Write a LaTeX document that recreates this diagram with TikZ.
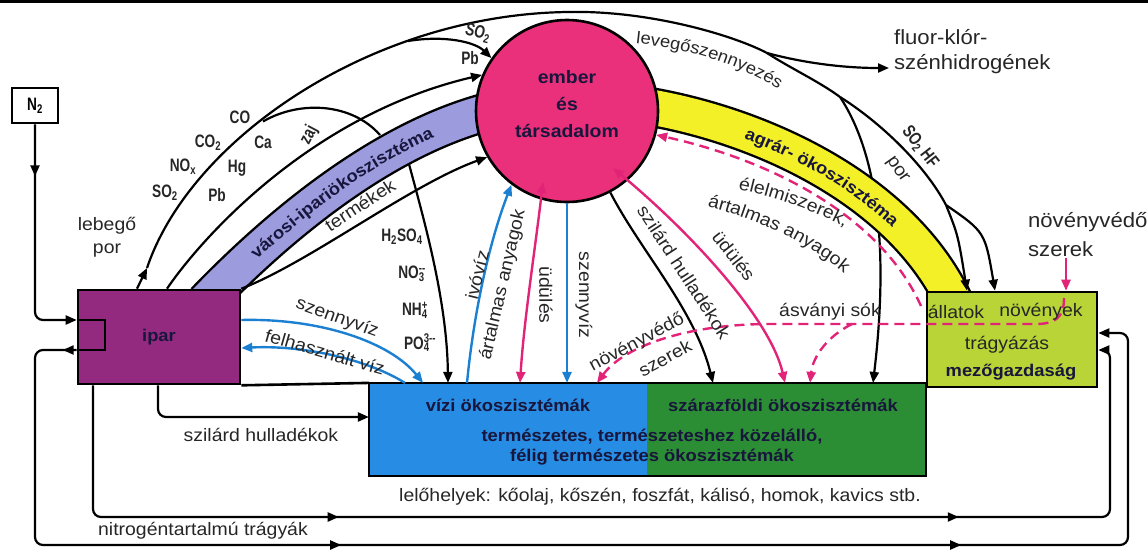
\documentclass[tikz,border=0pt]{standalone}
\usepackage{fontspec}
\setmainfont{Liberation Sans}[FakeStretch=1.08]
\newfontfamily\narrowfont{Liberation Sans}[FakeStretch=0.76]
\usetikzlibrary{arrows.meta,decorations.markings,decorations.text,positioning}

\definecolor{iparcol}{RGB}{148,42,128}
\definecolor{embercol}{RGB}{234,48,122}
\definecolor{varoscol}{RGB}{155,155,222}
\definecolor{agrarcol}{RGB}{244,240,40}
\definecolor{vizcol}{RGB}{38,140,228}
\definecolor{szarazcol}{RGB}{44,142,52}
\definecolor{mezocol}{RGB}{184,212,54}
\definecolor{bluecol}{RGB}{28,128,210}
\definecolor{pinkcol}{RGB}{226,36,120}
\definecolor{inkcol}{RGB}{24,22,60}

\newcommand{\chemss}[2]{\rlap{\textsubscript{#1}}\textsuperscript{#2}}

\pgfdeclarelayer{back}
\pgfdeclarelayer{bands}
\pgfsetlayers{back,bands,main}

\begin{document}
\begin{tikzpicture}[x=1pt,y=-1pt,
    every path/.append style={line width=2.2pt},
    >={Triangle[length=11pt,width=9pt]},
    box/.style={draw,line width=2.6pt,inner sep=0pt},
    lab/.style={inner sep=0pt,text=black!85,font=\fontsize{18}{22}\selectfont},
    chem/.style={inner sep=0pt,text=black!85,font=\narrowfont\bfseries\fontsize{18}{20}\selectfont},
    boxlab/.style={inner sep=0pt,text=inkcol,font=\bfseries\fontsize{17}{20}\selectfont},
    blueflow/.style={draw=bluecol,line width=2.4pt},
    pinkflow/.style={draw=pinkcol,line width=2.4pt},
    pinkdash/.style={pinkflow,dash pattern=on 10pt off 6pt},
    band/.style={draw=black,line width=2.4pt,double distance=35pt},
    midtip/.style={postaction={decorate,decoration={markings,mark=at position #1 with {\arrow{>}}}}}
  ]
  \useasboundingbox (0,0) rectangle (1148,550);
  \fill[black] (0,0) rectangle (1148,3);

  % blocks
  \node[box,fill=iparcol,minimum width=162pt,minimum height=94pt] (ipar) at (159,337) {};
  \node[box,fill=white,minimum width=46pt,minimum height=35pt,font=\narrowfont\bfseries\fontsize{18}{18}\selectfont] (N2) at (35,105.5) {N\textsubscript{2}};
  \node[circle,draw,line width=2.6pt,fill=embercol,minimum size=182pt,inner sep=0pt] (ember) at (567,111) {};
  \node[fill=vizcol,minimum width=277pt,minimum height=91pt,inner sep=0pt] (vizi) at (508.5,429.5) {};
  \node[fill=szarazcol,minimum width=278pt,minimum height=91pt,inner sep=0pt] (szaraz) at (786,429.5) {};
  \draw[line width=2.6pt] (vizi.north west) rectangle (szaraz.south east);
  \node[box,fill=mezocol,minimum width=170pt,minimum height=95pt] (mezo) at (1012,339.5) {};
  \node[lab,anchor=west,align=left,font=\fontsize{20.5}{25}\selectfont] (fluor) at (893,52) {fluor-klór-\\szénhidrogének};
  \node[lab,anchor=north west,align=left,font=\fontsize{20.5}{29}\selectfont] (novtop) at (1027,211) {növényvédő\\szerek};

  \coordinate (aSp) at (840,97);
  \coordinate (bandL0) at (205,302);
  \coordinate (bandL1) at (495,110);
  \coordinate (bandR0) at (645,106);
  \coordinate (bandR1) at (957,308);

  \begin{pgfonlayer}{back}
    \draw (263,121.5) .. controls (300,100) and (352,103) .. (380,135);
    \draw[->] (aSp) .. controls (875,150) and (890,240) .. (szaraz.north -| 873,0);
  \end{pgfonlayer}
  \begin{pgfonlayer}{bands}
    \draw[band,double=varoscol] (bandL0) .. controls (255,250) and (370,140) .. (bandL1);
    \draw[band,double=agrarcol] (bandR0) .. controls (760,125) and (905,190) .. (bandR1);
  \end{pgfonlayer}

  % nitrogen and deposits
  \draw[->,rounded corners=8pt,midtip=52pt] (N2.south) -- (N2.south |- 0,320) -- (ipar.west |- 0,320);
  \draw (ipar.west |- 0,320) -- (105,320) -- (105,350) -- (ipar.west |- 0,350);
  \draw[->,rounded corners=8pt,midtip=14pt,midtip=536pt,midtip=1156pt] (ipar.west |- 0,350) -- (35,350) -- (35,545) -- (1128,545) -- (1128,333) -- (mezo.east |- 0,333);
  \draw[->,rounded corners=8pt,midtip=374pt,midtip=994pt] (ipar.south -| 93,0) -- (93,517) -- (1110,517) -- (1110,350) -- (mezo.east |- 0,350);
  \draw[->,rounded corners=8pt] (ipar.south -| 158,0) -- (158,417) -- (vizi.west |- 0,417);
  \draw[line width=2.6pt] (ipar.south east) -- (vizi.north west);

  % air
  \coordinate (a0) at (147,268);
  \coordinate (aTop) at (567,12);
  \coordinate (aFl) at (767,53);
  \coordinate (aSO) at (408,41);
  \coordinate (aHF) at (946,205);
  \draw[->] (ipar.north -| 137,0) -- (a0);
  \draw (a0) .. controls (190,140) and (370,15) .. (aTop) .. controls (650,10) and (735,36) .. (aFl) .. controls (790,68) and (820,82) .. (aSp);
  \draw[->,shorten >=4pt] (aFl) .. controls (800,62) and (840,68) .. (fluor.west |- 0,68);
  \draw (aSp) .. controls (880,122) and (925,165) .. (aHF);
  \draw[->] (aHF) .. controls (958,235) .. (mezo.north -| 967,0);
  \draw[->] (aHF) .. controls (985,232) .. (mezo.north -| 995,0);
  \draw[->] (aSO) .. controls (445,35) and (475,42) .. (ember.145);
  \draw[->] (ipar.north -| 167,0) .. controls (200,240) and (310,115) .. (ember.157);
  \draw[->] (ipar.north east) .. controls (310,262) and (410,185) .. (ember.210);
  \draw[->] (409,164) .. controls (424,220) and (447,300) .. (vizi.north -| 448,0);

  % water and people
  \coordinate (pU1) at (543,182);
  \coordinate (pU2) at (613,168);
  \draw[blueflow,->] (ipar.east |- 0,320) .. controls (320,318) and (390,342) .. (vizi.north -| 423,0);
  \draw[blueflow,->] (vizi.north -| 405,0) .. controls (365,358) and (300,345) .. (ipar.east |- 0,348);
  \draw[blueflow,->] (vizi.north -| 467,0) .. controls (474,310) and (490,240) .. (ember.-127);
  \draw[blueflow,->] (ember.south) -- (vizi.north -| 567,0);
  \draw[pinkflow,<->] (pU1) .. controls (535,250) and (524,320) .. (vizi.north -| 520,0);
  \draw[pinkflow,<->] (pU2) .. controls (690,232) and (770,318) .. (szaraz.north -| 785,0);
  \draw[->] (ember.-62) .. controls (640,250) and (695,310) .. (szaraz.north -| 713,0);

  % agriculture
  \coordinate (dE) at (921,306);
  \coordinate (dN) at (1064,298);
  \coordinate (dS) at (852,324);
  \draw[pinkdash,->] (dE) .. controls (880,215) and (770,160) .. (ember.-15);
  \draw[pinkflow,->] (novtop.south -| 1066,0) -- (mezo.north -| 1066,0);
  \draw[pinkdash,->] (dN) .. controls (1064,318) and (1055,324) .. (1035,324) -- (770,324) .. controls (690,324) and (625,345) .. (vizi.north -| 597,0);
  \draw[pinkdash,->] (dS) .. controls (828,336) and (813,356) .. (szaraz.north -| 810,0);

  % texts in blocks
  \node[boxlab] (iparlab) at (ipar.center) {ipar};
  \node[boxlab,align=center,font=\bfseries\fontsize{18}{27}\selectfont] (emberlab) at (567,104) {ember\\és\\társadalom};
  \node[boxlab] (vizilab) at (508,405) {vízi ökoszisztémák};
  \node[boxlab] (szarazlab) at (783,405) {szárazföldi ökoszisztémák};
  \node[boxlab,align=center] (ecolab) at (652,447) {természetes, természeteshez közelálló,\\félig természetes ökoszisztémák};
  \node[lab] (allatlab) at (956,312) {állatok};
  \node[lab] (novenylab) at (1041,312) {növények};
  \node[lab] (tragyalab) at (1007,345) {trágyázás};
  \node[boxlab] (mezolab) at (1011,372) {mezőgazdaság};

  \path[decorate,decoration={text along path,text align=center,raise=-6pt,text color=inkcol,
    text={|\bfseries\fontsize{17}{17}\selectfont|városi-ipariökoszisztéma}}]
    (bandL0) .. controls (255,250) and (370,140) .. (bandL1);
  \path[decorate,decoration={text along path,text align=center,raise=-6pt,text color=inkcol,
    text={|\bfseries\fontsize{17}{17}\selectfont|agrár- ökoszisztéma}}]
    (bandR0) .. controls (760,125) and (905,190) .. (bandR1);
  \path[decorate,decoration={text along path,text align=center,text color=black!85,
    text={|\fontsize{17}{17}\selectfont|levegőszennyezés}}]
    (620,42) .. controls (680,46) and (740,62) .. (792,98);
  \path[decorate,decoration={text along path,text align=center,text color=black!85,
    text={|\fontsize{18}{18}\selectfont|élelmiszerek,}}]
    (712,184) .. controls (765,193) and (815,208) .. (868,240);
  \path[decorate,decoration={text along path,text align=center,text color=black!85,
    text={|\fontsize{18}{18}\selectfont|ártalmas anyagok}}]
    (675,200) .. controls (750,212) and (822,246) .. (868,296);

  % labels
  \node[lab,align=center,font=\fontsize{18}{23}\selectfont] (lebego) at (107,237) {lebegő\\por};
  \node[chem] (cSO) at (165,193) {SO\textsubscript{2}};
  \node[chem] (cNO) at (183,167) {NO\textsubscript{x}};
  \node[chem] (cCOk) at (208,143) {CO\textsubscript{2}};
  \node[chem] (cCO) at (240,117) {CO};
  \node[chem] (cCa) at (263,142) {Ca};
  \node[chem] (cHg) at (237,168) {Hg};
  \node[chem] (cPb) at (217,195) {Pb};
  \node[chem,rotate=62] (cZaj) at (309,135) {zaj};
  \node[chem,rotate=-15] (cSOk) at (478,33) {SO\textsubscript{2}};
  \node[chem] (cPbk) at (470,58) {Pb};
  \node[lab,rotate=33] (termek) at (360,205) {termékek};
  \node[chem] (hso) at (402,237) {H\textsubscript{2}SO\textsubscript{4}};
  \node[chem] (nothree) at (412,274) {NO\chemss{3}{--}};
  \node[chem] (nhfour) at (415,310) {NH\chemss{4}{+}};
  \node[chem] (pofour) at (420,343) {PO\chemss{4}{3--}};
  \node[lab,rotate=-20] (szvA) at (337,318) {szennyvíz};
  \node[lab,rotate=-16] (felh) at (325,352) {felhasznált víz};
  \node[lab,rotate=76] (ivoviz) at (477,275) {ivóvíz};
  \node[lab,rotate=77] (artal) at (503,285) {ártalmas anyagok};
  \node[lab,rotate=-90] (udulA) at (546,295) {üdülés};
  \node[lab,rotate=-90] (szvB) at (584,295) {szennyvíz};
  \node[lab,rotate=-57] (szilB) at (684,272) {szilárd hulladékok};
  \node[lab,rotate=-52] (udulB) at (734,256) {üdülés};
  \node[lab,rotate=28] (novA) at (637,343) {növényvédő};
  \node[lab,rotate=28] (novB) at (665,358) {szerek};
  \node[lab] (asvany) at (830,312) {ásványi sók};
  \node[chem,rotate=-52] (sohf) at (920,147) {SO\textsubscript{2} HF};
  \node[lab,rotate=-55] (porlab) at (897,170) {por};
  \node[lab] (lelo) at (660,497) {lelőhelyek: kőolaj, kőszén, foszfát, kálisó, homok, kavics stb.};
  \node[lab] (nitro) at (203,531) {nitrogéntartalmú trágyák};
  \node[lab] (szilA) at (261,435) {szilárd hulladékok};
\end{tikzpicture}
\end{document}
